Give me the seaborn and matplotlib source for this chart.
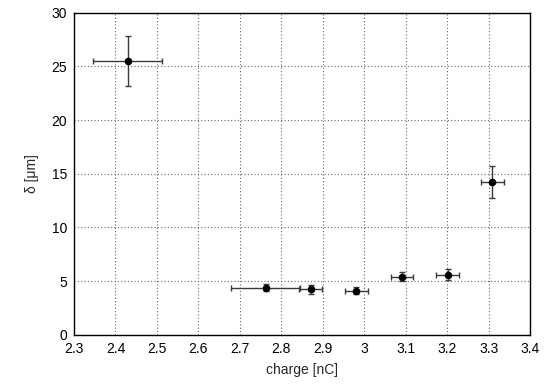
import matplotlib
matplotlib.use("Agg")
import matplotlib.pyplot as plt
import pandas as pd
import seaborn as sns

# values
charge = [2.43, 2.762, 2.871, 2.981, 3.091, 3.201, 3.309]
charge_err = [0.083, 0.083, 0.028, 0.028, 0.027, 0.027, 0.028]
delta = [25.5, 4.38, 4.23, 4.10, 5.41, 5.59, 14.23]
delta_err = [2.35, 0.3, 0.4, 0.35, 0.45, 0.5, 1.45]

x_ticks = [2.3, 2.4, 2.5, 2.6, 2.7, 2.8, 2.9, 3.0, 3.1, 3.2, 3.3, 3.4]
x_tick_labels = ["2.3", "2.4", "2.5", "2.6", "2.7", "2.8", "2.9", "3", "3.1", "3.2", "3.3", "3.4"]
y_ticks = [0, 5, 10, 15, 20, 25, 30]

sns.set_style("white")
plt.rcParams["font.family"] = ["Liberation Sans", "DejaVu Sans"]
fs = 10

data = pd.DataFrame({"charge": charge, "delta": delta})

fig = plt.figure(figsize=(5.51, 3.87), dpi=100)
ax = fig.add_axes([0.1343, 0.1351, 0.9619 - 0.1343, 0.9672 - 0.1351])

ax.errorbar(charge, delta, xerr=charge_err, yerr=delta_err, fmt="none",
            ecolor="#3a3a3a", elinewidth=1.0, capsize=2.5, capthick=1.0, zorder=3)
sns.scatterplot(data=data, x="charge", y="delta", color="black", s=30,
                edgecolor="black", linewidth=0, ax=ax, zorder=4)

ax.set_xlim(2.3, 3.4)
ax.set_ylim(0, 30)
ax.set_xticks(x_ticks)
ax.set_xticklabels(x_tick_labels)
ax.set_yticks(y_ticks)
ax.grid(True, linestyle=(0, (1, 2)), color="#666666", linewidth=0.8)
ax.tick_params(direction="in", length=3, width=0.8, colors="black", labelsize=fs, pad=5)
for spine in ax.spines.values():
    spine.set_color("black")
    spine.set_linewidth(1.0)

ax.set_xlabel("charge [nC]", fontsize=fs, labelpad=5)
ax.set_ylabel("δ [μm]", fontsize=fs, labelpad=9)

fig.savefig("out.png", dpi=100)
